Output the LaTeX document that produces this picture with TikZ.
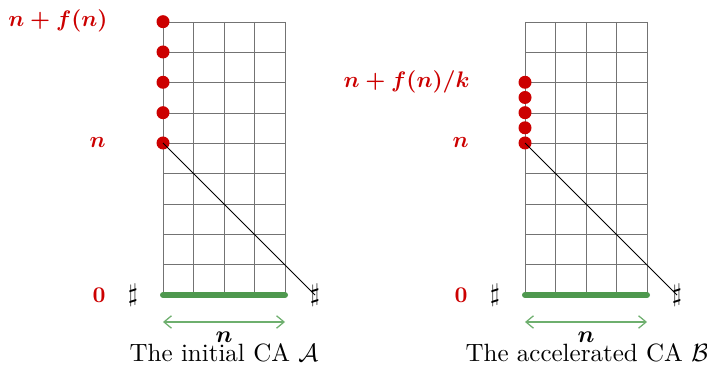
\documentclass[tikz,border=0pt]{standalone}
\usepackage{amsmath,amssymb}
\usetikzlibrary{arrows.meta}
\definecolor{cared}{RGB}{204,0,0}
\definecolor{cagreen}{RGB}{78,152,78}
\definecolor{calight}{RGB}{110,175,110}
\tikzset{
  gridline/.style={draw=black!55, line width=0.35pt},
  dot/.style={circle, fill=cared, inner sep=0pt, minimum size=5.2pt},
  redlab/.style={text=cared, inner sep=0pt, scale=0.9},
  sharpnode/.style={inner sep=0pt},
  diag/.style={draw=black, line width=0.4pt},
  tape/.style={draw=cagreen, line width=2.4pt, line cap=round},
  span/.style={draw=calight, line width=0.5pt, {Straight Barb[length=3pt,width=5pt]}-{Straight Barb[length=3pt,width=5pt]}},
  captext/.style={inner sep=0pt, anchor=base},
  lenlab/.style={inner sep=0pt, anchor=base, scale=0.95}
}
\begin{document}
\begin{tikzpicture}[x=0.4pt,y=-0.4pt]
\useasboundingbox (0,0) rectangle (707,365);
% ---------- left: initial CA ----------
\foreach \i in {0,...,4} \draw[gridline] (163+30.5*\i,22) -- (163+30.5*\i,295);
\foreach \j in {0,...,9} \draw[gridline] (163,22+30.333*\j) -- (285,22+30.333*\j);
\node[sharpnode] (shLa) at (133,295) {$\sharp$};
\node[sharpnode] (shLb) at (315,295) {$\sharp$};
\node[dot] (dL0) at (163,143) {};
\draw[diag] (dL0.center) -- (shLb.center);
\node[dot] (dL1) at (163,112.7) {};
\node[dot] (dL2) at (163,82.3) {};
\node[dot] (dL3) at (163,52) {};
\node[dot] (dL4) at (163,21.7) {};
\node[redlab, anchor=east] (fL) at (108,21) {$\boldsymbol{n+f(n)}$};
\node[redlab, anchor=east] (nL) at (106,143) {$\boldsymbol{n}$};
\node[redlab, anchor=east] (zL) at (106,295) {$\boldsymbol{0}$};
\coordinate (tLa) at (163,295);
\coordinate (tLb) at (285,295);
\draw[tape] (tLa) -- (tLb);
\coordinate (aLa) at (163,322);
\coordinate (aLb) at (285,322);
\draw[span] (aLa) -- (aLb);
\node[lenlab] (nnL) at (224,343) {$\boldsymbol{n}$};
\node[captext] (cL) at (224,362) {The initial CA $\mathcal{A}$};
% ---------- right: accelerated CA ----------
\foreach \i in {0,...,4} \draw[gridline] (525+30.5*\i,22) -- (525+30.5*\i,295);
\foreach \j in {0,...,9} \draw[gridline] (525,22+30.333*\j) -- (647,22+30.333*\j);
\node[sharpnode] (shRa) at (495,295) {$\sharp$};
\node[sharpnode] (shRb) at (677,295) {$\sharp$};
\node[dot] (dR0) at (525,143) {};
\draw[diag] (dR0.center) -- (shRb.center);
\node[dot] (dR1) at (525,127.8) {};
\node[dot] (dR2) at (525,112.7) {};
\node[dot] (dR3) at (525,97.5) {};
\node[dot] (dR4) at (525,82.3) {};
\node[redlab, anchor=east] (fR) at (470,82) {$\boldsymbol{n+f(n)/k}$};
\node[redlab, anchor=east] (nR) at (469,143) {$\boldsymbol{n}$};
\node[redlab, anchor=east] (zR) at (468,295) {$\boldsymbol{0}$};
\coordinate (tRa) at (525,295);
\coordinate (tRb) at (647,295);
\draw[tape] (tRa) -- (tRb);
\coordinate (aRa) at (525,322);
\coordinate (aRb) at (647,322);
\draw[span] (aRa) -- (aRb);
\node[lenlab] (nnR) at (586,343) {$\boldsymbol{n}$};
\node[captext] (cR) at (587,362) {The accelerated CA $\mathcal{B}$};
\end{tikzpicture}
\end{document}
